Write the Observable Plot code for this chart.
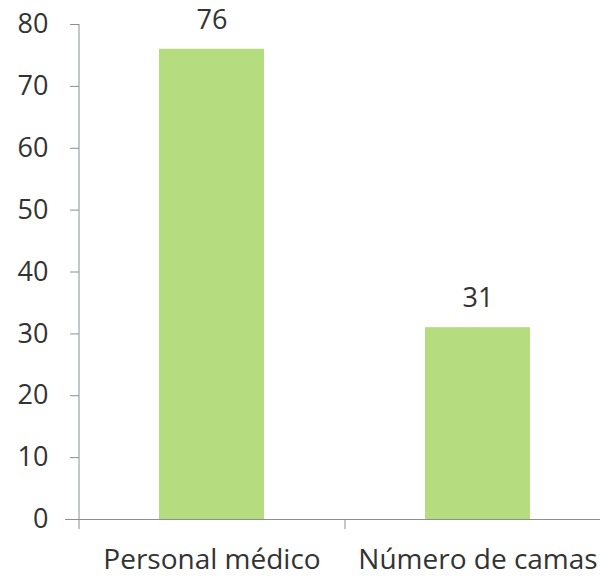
<!DOCTYPE html>
<html>
<head>
<meta charset="utf-8">
<script src="https://cdn.jsdelivr.net/npm/d3@7"></script>
<script src="https://cdn.jsdelivr.net/npm/@observablehq/plot@0.6"></script>
<style>
  html, body { margin: 0; padding: 0; background: #fff; }
  #chart { width: 600px; height: 581px; }
</style>
</head>
<body>
<div id="chart"></div>
<script>
const categories = ["Personal médico", "Número de camas"];
const values = [76, 31];
const yTicks = [0, 10, 20, 30, 40, 50, 60, 70, 80];

const data = categories.map((c, i) => ({category: c, value: values[i]}));

const font = "'Open Sans', sans-serif";
const textColor = "#333333";
const axisColor = "#8a8f96";

const chart = Plot.plot({
  width: 600,
  height: 581,
  marginTop: 24,
  marginBottom: 62,
  marginLeft: 79,
  marginRight: 0,
  style: {fontFamily: font, fontSize: "27px", color: textColor, background: "#fff"},
  x: {domain: categories, range: [79, 611], paddingInner: 0.605, paddingOuter: 0.3025, label: null},
  y: {domain: [0, 80], label: null},
  marks: [
    Plot.barY(data, {x: "category", y: "value", fill: "#b5dc7e"}),
    Plot.ruleY([0], {insetLeft: -14, stroke: axisColor, strokeWidth: 1}),
    Plot.ruleX(categories, {x: d => d, dx: -133, y1: 0, y2: 80, stroke: axisColor, filter: (d, i) => i === 0}),
    Plot.ruleX(categories, {x: d => d, dx: -133, y1: 0, y2: 0, insetBottom: -10, stroke: axisColor}),
    Plot.axisY({ticks: yTicks, tickSize: 9, tickPadding: 22, stroke: axisColor, fill: textColor, fontSize: 27, label: null}),
    Plot.axisX({tickSize: 0, tickPadding: 30, fill: textColor, fontSize: 28, label: null}),
    Plot.text(data, {x: "category", y: "value", text: d => String(d.value), dy: -29, fill: textColor, fontSize: 27})
  ]
});

document.getElementById("chart").appendChild(chart);
</script>
</body>
</html>
